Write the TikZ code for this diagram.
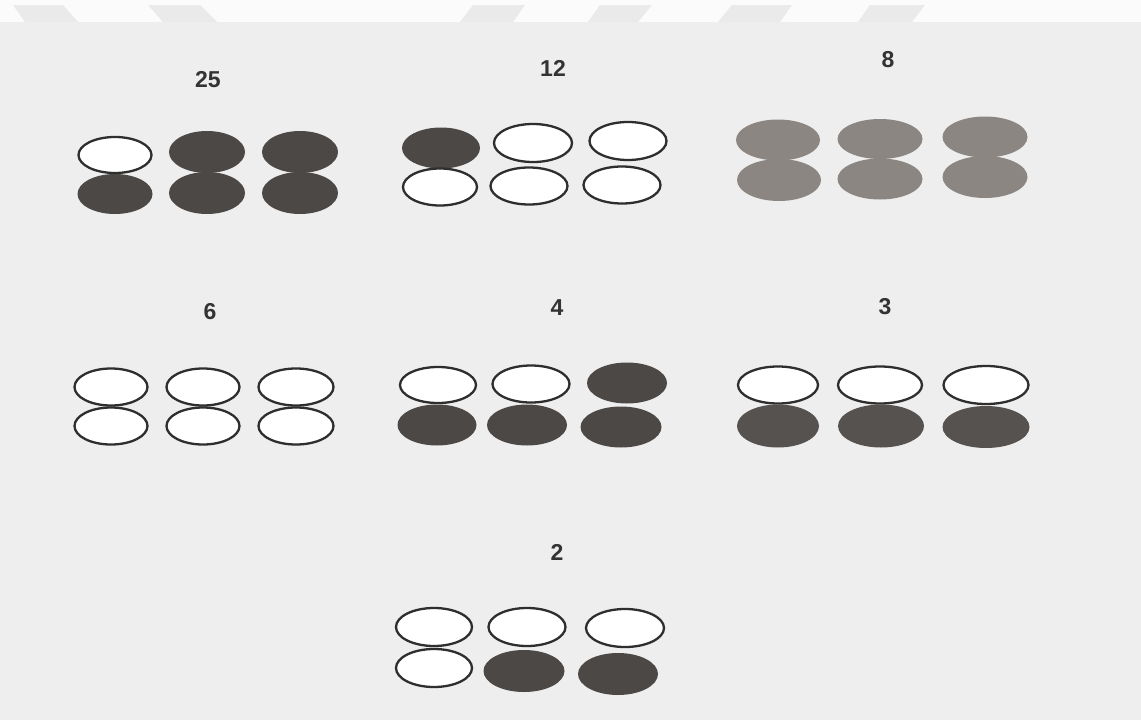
\documentclass[tikz,border=0pt]{standalone}
\usepackage{fontspec}
\setmainfont{Liberation Sans}
\usetikzlibrary{shapes.geometric}
\definecolor{bg}{HTML}{EEEEEE}
\definecolor{topstrip}{HTML}{FBFBFB}
\definecolor{wm}{HTML}{EAEAEA}
\definecolor{darkfill}{HTML}{4B4846}
\definecolor{midfill}{HTML}{55524F}
\definecolor{greyfill}{HTML}{8B8681}
\definecolor{rim}{HTML}{2E2E2E}
\definecolor{labelc}{HTML}{333333}
\tikzset{
  oval/.style={ellipse, inner sep=0pt, minimum width=#1},
  oval/.default=76pt,
  openoval/.style={oval=#1, draw=rim, line width=2.3pt, fill=white, minimum height=38pt},
  openoval/.default=76pt,
  darkoval/.style={oval=#1, fill=darkfill, minimum height=40pt},
  darkoval/.default=76pt,
  midoval/.style={oval=#1, fill=midfill, minimum height=42pt},
  midoval/.default=76pt,
  greyoval/.style={oval=#1, fill=greyfill, minimum height=41pt},
  greyoval/.default=84pt,
  numlabel/.style={font=\fontsize{23}{23}\selectfont\bfseries, text=labelc, inner sep=0pt}
}
\begin{document}
\begin{tikzpicture}[x=1pt,y=-1pt]
\useasboundingbox (0,0) rectangle (1141,720);
\fill[bg] (0,0) rectangle (1141,720);
\fill[topstrip] (0,0) rectangle (1141,22);
% watermark fragments
\fill[wm] (13,5) -- (63,5) -- (78,22) -- (25,22) -- cycle;
\fill[wm] (148,5) -- (200,5) -- (217,22) -- (163,22) -- cycle;
\fill[wm] (473,5) -- (525,5) -- (513,22) -- (460,22) -- cycle;
\fill[wm] (600,5) -- (652,5) -- (638,22) -- (588,22) -- cycle;
\fill[wm] (732,5) -- (792,5) -- (780,22) -- (718,22) -- cycle;
\fill[wm] (870,5) -- (925,5) -- (912,22) -- (858,22) -- cycle;

% group 25
\node[numlabel] (l25) at (208,80) {25};
\node[openoval=73pt, minimum height=36pt] (a1) at (115,155) {};
\node[darkoval=75pt, minimum height=40pt] (a2) at (115,194) {};
\node[darkoval=76pt, minimum height=42pt] (a3) at (207,152) {};
\node[darkoval=76pt, minimum height=42pt] (a4) at (207,193) {};
\node[darkoval=76pt, minimum height=42pt] (a5) at (300,152) {};
\node[darkoval=76pt, minimum height=42pt] (a6) at (300,193) {};

% group 12
\node[numlabel] (l12) at (553,68) {12};
\node[darkoval=78pt, minimum height=41pt] (b1) at (441,148) {};
\node[openoval=74pt, minimum height=37pt] (b2) at (440,187) {};
\node[openoval=78pt, minimum height=38pt] (b3) at (533,143) {};
\node[openoval=77pt, minimum height=37pt] (b4) at (529,186) {};
\node[openoval=77pt, minimum height=38pt] (b5) at (628,141) {};
\node[openoval=77pt, minimum height=37pt] (b6) at (622,185) {};

% group 8
\node[numlabel] (l8) at (888,60) {8};
\node[greyoval=84pt] (c1) at (778,140) {};
\node[greyoval=84pt, minimum height=42pt] (c2) at (779,180) {};
\node[greyoval=85pt, minimum height=40pt] (c3) at (880,139) {};
\node[greyoval=85pt] (c4) at (880,179) {};
\node[greyoval=85pt] (c5) at (985,137) {};
\node[greyoval=85pt, minimum height=42pt] (c6) at (985,177) {};

% group 6
\node[numlabel] (l6) at (210,312) {6};
\node[openoval=73pt, minimum height=37pt] (d1) at (111,387) {};
\node[openoval=73pt, minimum height=37pt] (d2) at (111,426) {};
\node[openoval=73pt, minimum height=37pt] (d3) at (203,387) {};
\node[openoval=73pt, minimum height=37pt] (d4) at (203,426) {};
\node[openoval=75pt, minimum height=37pt] (d5) at (296,387) {};
\node[openoval=75pt, minimum height=37pt] (d6) at (296,426) {};

% group 4
\node[numlabel] (l4) at (557,308) {4};
\node[openoval=76pt, minimum height=36pt] (e1) at (438,385) {};
\node[darkoval=79pt, minimum height=41pt] (e2) at (437,425) {};
\node[openoval=77pt, minimum height=37pt] (e3) at (531,384) {};
\node[darkoval=80pt, minimum height=41pt] (e4) at (527,425) {};
\node[darkoval=80pt, minimum height=41pt] (e5) at (627,383) {};
\node[darkoval=81pt, minimum height=41pt] (e6) at (621,427) {};

% group 3
\node[numlabel] (l3) at (885,307) {3};
\node[openoval=80pt, minimum height=37pt] (f1) at (778,385) {};
\node[midoval=82pt, minimum height=43pt] (f2) at (778,426) {};
\node[openoval=84pt, minimum height=37pt] (f3) at (880,385) {};
\node[midoval=86pt, minimum height=43pt] (f4) at (881,426) {};
\node[openoval=85pt, minimum height=38pt] (f5) at (986,385) {};
\node[midoval=87pt, minimum height=42pt] (f6) at (986,427) {};

% group 2
\node[numlabel] (l2) at (557,552) {2};
\node[openoval=76pt, minimum height=38pt] (g1) at (434,627) {};
\node[openoval=76pt, minimum height=38pt] (g2) at (434,668) {};
\node[openoval=77pt, minimum height=38pt] (g3) at (527,627) {};
\node[darkoval=81pt, minimum height=42pt] (g4) at (524,671) {};
\node[openoval=78pt, minimum height=38pt] (g5) at (625,628) {};
\node[darkoval=80pt, minimum height=42pt] (g6) at (618,674) {};
\end{tikzpicture}
\end{document}
